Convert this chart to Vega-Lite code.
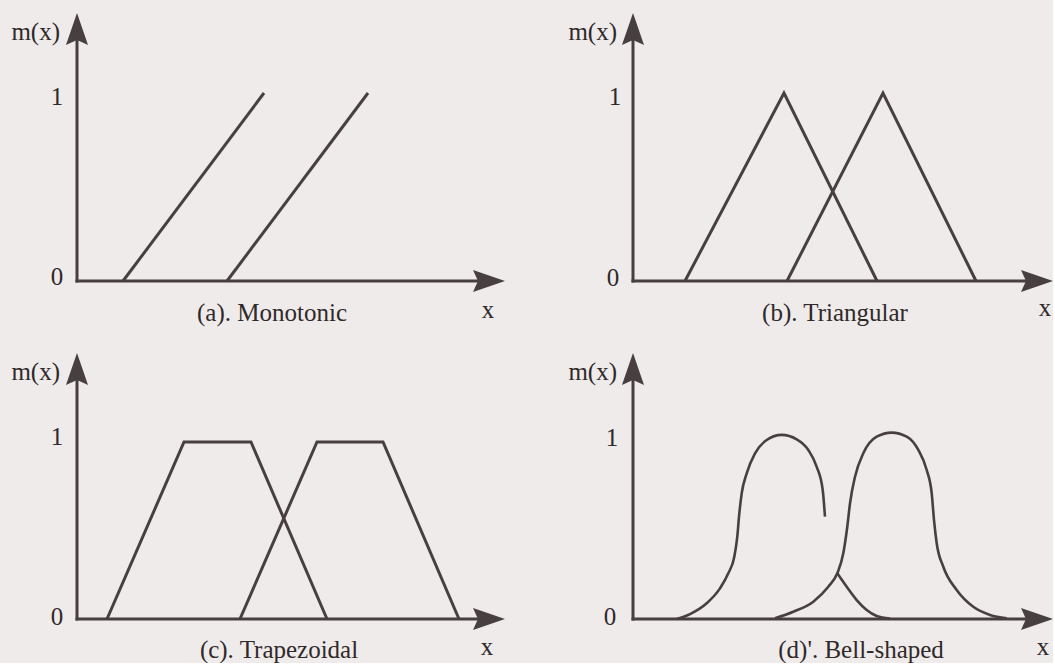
{
  "$schema": "https://vega.github.io/schema/vega-lite/v6.json",
  "background": "#efebeb",
  "padding": {"left": 11, "top": 13, "right": 0, "bottom": 0},
  "config": {"view": {"stroke": null}},
  "datasets": {
    "axes": [
      {"p": "a", "x": 0, "y": 0, "x2": 0, "y2": 1.35},
      {"p": "a", "x": 0, "y": 0, "x2": 9.7, "y2": 0},
      {"p": "b", "x": 0, "y": 0, "x2": 0, "y2": 1.35},
      {"p": "b", "x": 0, "y": 0, "x2": 9.7, "y2": 0},
      {"p": "c", "x": 0, "y": 0, "x2": 0, "y2": 1.43},
      {"p": "c", "x": 0, "y": 0, "x2": 9.7, "y2": 0},
      {"p": "d", "x": 0, "y": 0, "x2": 0, "y2": 1.43},
      {"p": "d", "x": 0, "y": 0, "x2": 9.7, "y2": 0}
    ],
    "arrows": [
      {"p": "a", "d": "up", "x": 0, "y": 1.4255},
      {"p": "a", "d": "right", "x": 10, "y": 0},
      {"p": "b", "d": "up", "x": 0, "y": 1.4255},
      {"p": "b", "d": "right", "x": 10, "y": 0},
      {"p": "c", "d": "up", "x": 0, "y": 1.5028},
      {"p": "c", "d": "right", "x": 10, "y": 0},
      {"p": "d", "d": "up", "x": 0, "y": 1.5028},
      {"p": "d", "d": "right", "x": 10, "y": 0}
    ],
    "curves": [
      {"p": "a", "s": "a1", "i": 0, "x": 1.075, "y": 0},
      {"p": "a", "s": "a1", "i": 1, "x": 4.369, "y": 1},
      {"p": "a", "s": "a2", "i": 0, "x": 3.505, "y": 0},
      {"p": "a", "s": "a2", "i": 1, "x": 6.799, "y": 1},
      {"p": "b", "s": "b1", "i": 0, "x": 1.238, "y": 0},
      {"p": "b", "s": "b1", "i": 1, "x": 3.595, "y": 1},
      {"p": "b", "s": "b1", "i": 2, "x": 5.81, "y": 0},
      {"p": "b", "s": "b2", "i": 0, "x": 3.667, "y": 0},
      {"p": "b", "s": "b2", "i": 1, "x": 5.952, "y": 1},
      {"p": "b", "s": "b2", "i": 2, "x": 8.167, "y": 0},
      {"p": "c", "s": "c1", "i": 0, "x": 0.701, "y": 0},
      {"p": "c", "s": "c1", "i": 1, "x": 2.5, "y": 1},
      {"p": "c", "s": "c1", "i": 2, "x": 4.065, "y": 1},
      {"p": "c", "s": "c1", "i": 3, "x": 5.841, "y": 0},
      {"p": "c", "s": "c2", "i": 0, "x": 3.808, "y": 0},
      {"p": "c", "s": "c2", "i": 1, "x": 5.607, "y": 1},
      {"p": "c", "s": "c2", "i": 2, "x": 7.15, "y": 1},
      {"p": "c", "s": "c2", "i": 3, "x": 8.925, "y": 0},
      {"p": "d", "s": "d1u", "i": 0, "x": 1.04, "y": 0},
      {"p": "d", "s": "d1u", "i": 1, "x": 1.357, "y": 0.028},
      {"p": "d", "s": "d1u", "i": 2, "x": 1.755, "y": 0.089},
      {"p": "d", "s": "d1u", "i": 3, "x": 2.071, "y": 0.173},
      {"p": "d", "s": "d1u", "i": 4, "x": 2.269, "y": 0.258},
      {"p": "d", "s": "d1u", "i": 5, "x": 2.412, "y": 0.352},
      {"p": "d", "s": "d1u", "i": 6, "x": 2.483, "y": 0.465},
      {"p": "d", "s": "d1u", "i": 7, "x": 2.524, "y": 0.578},
      {"p": "d", "s": "d1u", "i": 8, "x": 2.588, "y": 0.71},
      {"p": "d", "s": "d1u", "i": 9, "x": 2.707, "y": 0.823},
      {"p": "d", "s": "d1u", "i": 10, "x": 2.905, "y": 0.936},
      {"p": "d", "s": "d1u", "i": 11, "x": 3.183, "y": 1.011},
      {"p": "d", "s": "d1u", "i": 12, "x": 3.54, "y": 1.04},
      {"p": "d", "s": "d1u", "i": 13, "x": 3.898, "y": 1.015},
      {"p": "d", "s": "d1u", "i": 14, "x": 4.174, "y": 0.955},
      {"p": "d", "s": "d1u", "i": 15, "x": 4.374, "y": 0.86},
      {"p": "d", "s": "d1u", "i": 16, "x": 4.517, "y": 0.729},
      {"p": "d", "s": "d1u", "i": 17, "x": 4.571, "y": 0.578},
      {"p": "d", "s": "d1l", "i": 0, "x": 4.864, "y": 0.258},
      {"p": "d", "s": "d1l", "i": 1, "x": 5.088, "y": 0.182},
      {"p": "d", "s": "d1l", "i": 2, "x": 5.326, "y": 0.107},
      {"p": "d", "s": "d1l", "i": 3, "x": 5.564, "y": 0.051},
      {"p": "d", "s": "d1l", "i": 4, "x": 5.802, "y": 0.017},
      {"p": "d", "s": "d1l", "i": 5, "x": 6.119, "y": 0.002},
      {"p": "d", "s": "d2", "i": 0, "x": 3.381, "y": 0.004},
      {"p": "d", "s": "d2", "i": 1, "x": 3.817, "y": 0.041},
      {"p": "d", "s": "d2", "i": 2, "x": 4.293, "y": 0.098},
      {"p": "d", "s": "d2", "i": 3, "x": 4.65, "y": 0.182},
      {"p": "d", "s": "d2", "i": 4, "x": 4.864, "y": 0.258},
      {"p": "d", "s": "d2", "i": 5, "x": 5.007, "y": 0.371},
      {"p": "d", "s": "d2", "i": 6, "x": 5.102, "y": 0.521},
      {"p": "d", "s": "d2", "i": 7, "x": 5.167, "y": 0.654},
      {"p": "d", "s": "d2", "i": 8, "x": 5.286, "y": 0.804},
      {"p": "d", "s": "d2", "i": 9, "x": 5.483, "y": 0.936},
      {"p": "d", "s": "d2", "i": 10, "x": 5.802, "y": 1.03},
      {"p": "d", "s": "d2", "i": 11, "x": 6.16, "y": 1.053},
      {"p": "d", "s": "d2", "i": 12, "x": 6.517, "y": 1.03},
      {"p": "d", "s": "d2", "i": 13, "x": 6.793, "y": 0.955},
      {"p": "d", "s": "d2", "i": 14, "x": 6.993, "y": 0.842},
      {"p": "d", "s": "d2", "i": 15, "x": 7.112, "y": 0.71},
      {"p": "d", "s": "d2", "i": 16, "x": 7.167, "y": 0.559},
      {"p": "d", "s": "d2", "i": 17, "x": 7.231, "y": 0.428},
      {"p": "d", "s": "d2", "i": 18, "x": 7.388, "y": 0.295},
      {"p": "d", "s": "d2", "i": 19, "x": 7.707, "y": 0.164},
      {"p": "d", "s": "d2", "i": 20, "x": 8.102, "y": 0.069},
      {"p": "d", "s": "d2", "i": 21, "x": 8.5, "y": 0.023},
      {"p": "d", "s": "d2", "i": 22, "x": 8.898, "y": 0.004}
    ],
    "labels": [
      {"p": "a", "r": "m", "t": "m(x)", "x": -0.397, "y": 1.282},
      {"p": "a", "r": "n", "t": "1", "x": -0.467, "y": 0.979},
      {"p": "a", "r": "n", "t": "0", "x": -0.467, "y": 0.021},
      {"p": "a", "r": "n", "t": "x", "x": 9.603, "y": -0.154},
      {"p": "a", "r": "n", "t": "(a). Monotonic", "x": 4.556, "y": -0.17},
      {"p": "b", "r": "m", "t": "m(x)", "x": -0.381, "y": 1.282},
      {"p": "b", "r": "n", "t": "1", "x": -0.429, "y": 0.979},
      {"p": "b", "r": "n", "t": "0", "x": -0.476, "y": 0.018},
      {"p": "b", "r": "n", "t": "x", "x": 9.81, "y": -0.144},
      {"p": "b", "r": "n", "t": "(b). Triangular", "x": 4.81, "y": -0.17},
      {"p": "c", "r": "m", "t": "m(x)", "x": -0.397, "y": 1.35},
      {"p": "c", "r": "n", "t": "1", "x": -0.467, "y": 1.028},
      {"p": "c", "r": "n", "t": "0", "x": -0.467, "y": 0.011},
      {"p": "c", "r": "n", "t": "x", "x": 9.579, "y": -0.158},
      {"p": "c", "r": "n", "t": "(c). Trapezoidal", "x": 4.72, "y": -0.175},
      {"p": "d", "r": "m", "t": "m(x)", "x": -0.381, "y": 1.35},
      {"p": "d", "r": "n", "t": "1", "x": -0.5, "y": 1.023},
      {"p": "d", "r": "n", "t": "0", "x": -0.548, "y": 0.011},
      {"p": "d", "r": "n", "t": "x", "x": 9.76, "y": -0.158},
      {"p": "d", "r": "n", "t": "(d)'. Bell-shaped", "x": 5.43, "y": -0.175}
    ]
  },
  "columns": 2,
  "spacing": {"row": 72, "column": 128},
  "align": "each",
  "bounds": "flush",
  "concat": [
    {
      "width": 428, "height": 268,
      "encoding": {
        "x": {"field": "x", "type": "quantitative", "scale": {"domain": [0, 10], "nice": false, "zero": false}, "axis": null},
        "y": {"field": "y", "type": "quantitative", "scale": {"domain": [0, 1.4255], "nice": false, "zero": false}, "axis": null}
      },
      "layer": [
        {"data": {"name": "axes"}, "transform": [{"filter": "datum.p === 'a'"}], "mark": {"type": "rule", "color": "#483f40", "strokeWidth": 3, "strokeCap": "square"}, "encoding": {"x2": {"field": "x2"}, "y2": {"field": "y2"}}},
        {"data": {"name": "arrows"}, "transform": [{"filter": "datum.p === 'a' && datum.d === 'up'"}], "mark": {"type": "point", "shape": "M0,0L0.69,2L0,1.69L-0.69,2Z", "size": 1024, "filled": true, "opacity": 1, "strokeWidth": 0, "color": "#483f40"}},
        {"data": {"name": "arrows"}, "transform": [{"filter": "datum.p === 'a' && datum.d === 'right'"}], "mark": {"type": "point", "shape": "M0,0L-2,-0.69L-1.69,0L-2,0.69Z", "size": 1024, "filled": true, "opacity": 1, "strokeWidth": 0, "color": "#483f40"}},
        {"data": {"name": "curves"}, "transform": [{"filter": "datum.p === 'a'"}], "mark": {"type": "line", "color": "#483f40", "strokeWidth": 3, "interpolate": "linear"}, "encoding": {"detail": {"field": "s"}, "order": {"field": "i"}}},
        {"data": {"name": "labels"}, "transform": [{"filter": "datum.p === 'a' && datum.r === 'm'"}], "mark": {"type": "text", "font": "Liberation Serif", "fontSize": 25, "color": "#2f2929", "align": "right", "baseline": "alphabetic"}, "encoding": {"text": {"field": "t"}}},
        {"data": {"name": "labels"}, "transform": [{"filter": "datum.p === 'a' && datum.r === 'n'"}], "mark": {"type": "text", "font": "Liberation Serif", "fontSize": 25, "color": "#2f2929", "align": "center", "baseline": "middle"}, "encoding": {"text": {"field": "t"}}}
      ]
    },
    {
      "width": 420, "height": 268,
      "encoding": {
        "x": {"field": "x", "type": "quantitative", "scale": {"domain": [0, 10], "nice": false, "zero": false}, "axis": null},
        "y": {"field": "y", "type": "quantitative", "scale": {"domain": [0, 1.4255], "nice": false, "zero": false}, "axis": null}
      },
      "layer": [
        {"data": {"name": "axes"}, "transform": [{"filter": "datum.p === 'b'"}], "mark": {"type": "rule", "color": "#483f40", "strokeWidth": 3, "strokeCap": "square"}, "encoding": {"x2": {"field": "x2"}, "y2": {"field": "y2"}}},
        {"data": {"name": "arrows"}, "transform": [{"filter": "datum.p === 'b' && datum.d === 'up'"}], "mark": {"type": "point", "shape": "M0,0L0.69,2L0,1.69L-0.69,2Z", "size": 1024, "filled": true, "opacity": 1, "strokeWidth": 0, "color": "#483f40"}},
        {"data": {"name": "arrows"}, "transform": [{"filter": "datum.p === 'b' && datum.d === 'right'"}], "mark": {"type": "point", "shape": "M0,0L-2,-0.69L-1.69,0L-2,0.69Z", "size": 1024, "filled": true, "opacity": 1, "strokeWidth": 0, "color": "#483f40"}},
        {"data": {"name": "curves"}, "transform": [{"filter": "datum.p === 'b'"}], "mark": {"type": "line", "color": "#483f40", "strokeWidth": 3, "interpolate": "linear"}, "encoding": {"detail": {"field": "s"}, "order": {"field": "i"}}},
        {"data": {"name": "labels"}, "transform": [{"filter": "datum.p === 'b' && datum.r === 'm'"}], "mark": {"type": "text", "font": "Liberation Serif", "fontSize": 25, "color": "#2f2929", "align": "right", "baseline": "alphabetic"}, "encoding": {"text": {"field": "t"}}},
        {"data": {"name": "labels"}, "transform": [{"filter": "datum.p === 'b' && datum.r === 'n'"}], "mark": {"type": "text", "font": "Liberation Serif", "fontSize": 25, "color": "#2f2929", "align": "center", "baseline": "middle"}, "encoding": {"text": {"field": "t"}}}
      ]
    },
    {
      "width": 428, "height": 266,
      "encoding": {
        "x": {"field": "x", "type": "quantitative", "scale": {"domain": [0, 10], "nice": false, "zero": false}, "axis": null},
        "y": {"field": "y", "type": "quantitative", "scale": {"domain": [0, 1.5028], "nice": false, "zero": false}, "axis": null}
      },
      "layer": [
        {"data": {"name": "axes"}, "transform": [{"filter": "datum.p === 'c'"}], "mark": {"type": "rule", "color": "#483f40", "strokeWidth": 3, "strokeCap": "square"}, "encoding": {"x2": {"field": "x2"}, "y2": {"field": "y2"}}},
        {"data": {"name": "arrows"}, "transform": [{"filter": "datum.p === 'c' && datum.d === 'up'"}], "mark": {"type": "point", "shape": "M0,0L0.69,2L0,1.69L-0.69,2Z", "size": 1024, "filled": true, "opacity": 1, "strokeWidth": 0, "color": "#483f40"}},
        {"data": {"name": "arrows"}, "transform": [{"filter": "datum.p === 'c' && datum.d === 'right'"}], "mark": {"type": "point", "shape": "M0,0L-2,-0.69L-1.69,0L-2,0.69Z", "size": 1024, "filled": true, "opacity": 1, "strokeWidth": 0, "color": "#483f40"}},
        {"data": {"name": "curves"}, "transform": [{"filter": "datum.p === 'c'"}], "mark": {"type": "line", "color": "#483f40", "strokeWidth": 3, "interpolate": "linear"}, "encoding": {"detail": {"field": "s"}, "order": {"field": "i"}}},
        {"data": {"name": "labels"}, "transform": [{"filter": "datum.p === 'c' && datum.r === 'm'"}], "mark": {"type": "text", "font": "Liberation Serif", "fontSize": 25, "color": "#2f2929", "align": "right", "baseline": "alphabetic"}, "encoding": {"text": {"field": "t"}}},
        {"data": {"name": "labels"}, "transform": [{"filter": "datum.p === 'c' && datum.r === 'n'"}], "mark": {"type": "text", "font": "Liberation Serif", "fontSize": 25, "color": "#2f2929", "align": "center", "baseline": "middle"}, "encoding": {"text": {"field": "t"}}}
      ]
    },
    {
      "width": 420, "height": 266,
      "encoding": {
        "x": {"field": "x", "type": "quantitative", "scale": {"domain": [0, 10], "nice": false, "zero": false}, "axis": null},
        "y": {"field": "y", "type": "quantitative", "scale": {"domain": [0, 1.5028], "nice": false, "zero": false}, "axis": null}
      },
      "layer": [
        {"data": {"name": "axes"}, "transform": [{"filter": "datum.p === 'd'"}], "mark": {"type": "rule", "color": "#483f40", "strokeWidth": 3, "strokeCap": "square"}, "encoding": {"x2": {"field": "x2"}, "y2": {"field": "y2"}}},
        {"data": {"name": "arrows"}, "transform": [{"filter": "datum.p === 'd' && datum.d === 'up'"}], "mark": {"type": "point", "shape": "M0,0L0.69,2L0,1.69L-0.69,2Z", "size": 1024, "filled": true, "opacity": 1, "strokeWidth": 0, "color": "#483f40"}},
        {"data": {"name": "arrows"}, "transform": [{"filter": "datum.p === 'd' && datum.d === 'right'"}], "mark": {"type": "point", "shape": "M0,0L-2,-0.69L-1.69,0L-2,0.69Z", "size": 1024, "filled": true, "opacity": 1, "strokeWidth": 0, "color": "#483f40"}},
        {"data": {"name": "curves"}, "transform": [{"filter": "datum.p === 'd'"}], "mark": {"type": "line", "color": "#483f40", "strokeWidth": 2.6, "interpolate": "monotone"}, "encoding": {"detail": {"field": "s"}, "order": {"field": "i"}}},
        {"data": {"name": "labels"}, "transform": [{"filter": "datum.p === 'd' && datum.r === 'm'"}], "mark": {"type": "text", "font": "Liberation Serif", "fontSize": 25, "color": "#2f2929", "align": "right", "baseline": "alphabetic"}, "encoding": {"text": {"field": "t"}}},
        {"data": {"name": "labels"}, "transform": [{"filter": "datum.p === 'd' && datum.r === 'n'"}], "mark": {"type": "text", "font": "Liberation Serif", "fontSize": 25, "color": "#2f2929", "align": "center", "baseline": "middle"}, "encoding": {"text": {"field": "t"}}}
      ]
    }
  ]
}
